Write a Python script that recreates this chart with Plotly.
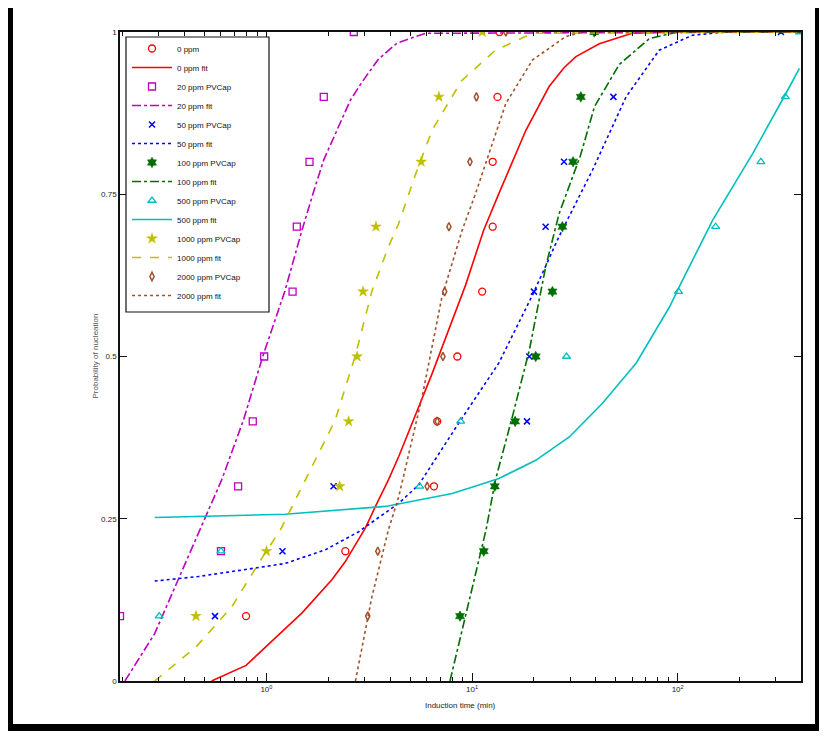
import plotly.graph_objects as go
import math

# ---- measured data (probability levels shared by all series) ----
prob = [0.1, 0.2, 0.3, 0.4, 0.5, 0.6, 0.7, 0.8, 0.9, 1.0]

t_0ppm    = [0.796, 2.42, 6.53, 6.77, 8.48, 11.2, 12.6, 12.6, 13.3, 13.6]
t_20ppm   = [0.194, 0.601, 0.728, 0.858, 0.975, 1.34, 1.405, 1.62, 1.90, 2.66]
t_50ppm   = [0.562, 1.197, 2.12, 18.5, 19.0, 20.0, 22.8, 28.0, 48.7, 318]
t_100ppm  = [8.74, 11.4, 12.9, 16.2, 20.4, 24.6, 27.5, 31.0, 33.8, 39.3]
t_500ppm  = [0.301, 0.601, 5.56, 8.8, 28.8, 101, 153, 254, 334, 391]
t_1000ppm = [0.454, 1.0, 2.27, 2.51, 2.76, 2.95, 3.41, 5.66, 6.9, 11.2]
t_2000ppm = [3.11, 3.48, 6.05, 6.77, 7.22, 7.36, 7.72, 9.77, 10.5, 14.6]

# ---- fitted curves ----
fit0_t = [0.541, 0.796, 1.49, 2.08, 2.42, 3.03, 3.39, 3.92, 4.4, 6.4, 9.3, 11.4, 13.5, 18.3, 23.7, 28.0, 32.0, 41.6, 60.0, 100, 400]
fit0_p = [0.0, 0.024, 0.105, 0.156, 0.184, 0.236, 0.269, 0.31, 0.346, 0.474, 0.61, 0.695, 0.751, 0.849, 0.916, 0.945, 0.962, 0.982, 0.998, 1.0, 1.0]

fit20_t = [0.205, 0.286, 0.372, 0.483, 0.606, 0.773, 0.964, 1.23, 1.49, 1.70, 1.90, 2.56, 2.92, 3.5, 4.32, 5.94, 400]
fit20_p = [0.0, 0.073, 0.156, 0.238, 0.31, 0.402, 0.502, 0.601, 0.695, 0.755, 0.803, 0.895, 0.923, 0.958, 0.983, 0.998, 1.0]

fit50_t = [0.286, 0.466, 0.881, 1.23, 1.93, 2.81, 4.4, 5.5, 8.6, 13.5, 19.7, 26.5, 38.5, 56.1, 81.3, 118, 172, 400]
fit50_p = [0.154, 0.161, 0.174, 0.181, 0.202, 0.23, 0.274, 0.302, 0.397, 0.49, 0.595, 0.685, 0.787, 0.9, 0.972, 0.995, 1.0, 1.0]

fit100_t = [7.81, 10.0, 11.7, 13.0, 15.7, 19.0, 22.8, 26.5, 33.7, 39.4, 52.0, 73.0, 100, 400]
fit100_p = [0.0, 0.14, 0.233, 0.31, 0.407, 0.51, 0.638, 0.72, 0.81, 0.885, 0.95, 0.99, 1.0, 1.0]

fit500_t = [0.286, 1.23, 3.79, 8.0, 10.8, 13.5, 20.4, 29.7, 43.1, 62.9, 91.5, 102, 148, 232, 337, 391]
fit500_p = [0.252, 0.257, 0.269, 0.289, 0.302, 0.312, 0.34, 0.376, 0.428, 0.49, 0.577, 0.608, 0.71, 0.813, 0.906, 0.944]

fit1000_t = [0.286, 0.456, 0.677, 0.817, 0.949, 1.17, 1.38, 1.86, 2.16, 2.71, 3.26, 3.92, 4.4, 5.3, 6.4, 8.9, 13.0, 19.7, 400]
fit1000_p = [0.0, 0.053, 0.114, 0.156, 0.189, 0.233, 0.279, 0.361, 0.402, 0.502, 0.601, 0.669, 0.705, 0.78, 0.849, 0.925, 0.972, 0.998, 1.0]

fit2000_t = [2.71, 3.26, 3.92, 4.4, 5.72, 7.14, 8.96, 10.4, 14.6, 19.7, 28.6, 34.4, 400]
fit2000_p = [0.0, 0.13, 0.233, 0.284, 0.438, 0.592, 0.695, 0.751, 0.89, 0.957, 0.993, 1.0, 1.0]

x_tick_vals = [1, 10, 100]
x_tick_text = ["10<sup>0</sup>", "10<sup>1</sup>", "10<sup>2</sup>"]
y_tick_vals = [0, 0.25, 0.5, 0.75, 1]
y_tick_text = ["0", "0.25", "0.5", "0.75", "1"]

RED = "#ff0000"
MAG = "#bf00bf"
BLU = "#0000ff"
GRN = "#006e00"
CYN = "#00bfbf"
YEL = "#bfbf00"
BRN = "#a0522d"

series = [
    ("0 ppm", t_0ppm, dict(symbol="circle-open", size=7, color=RED, line=dict(width=1.3, color=RED)),
     "0 ppm fit", fit0_t, fit0_p, RED, "solid"),
    ("20 ppm PVCap", t_20ppm, dict(symbol="square-open", size=7, color=MAG, line=dict(width=1.3, color=MAG)),
     "20 ppm fit", fit20_t, fit20_p, MAG, "dashdot"),
    ("50 ppm PVCap", t_50ppm, dict(symbol="x-thin-open", size=6, color=BLU, line=dict(width=1.5, color=BLU)),
     "50 ppm fit", fit50_t, fit50_p, BLU, "dot"),
    ("100 ppm PVCap", t_100ppm, dict(symbol="hexagram", size=8, color=GRN, line=dict(width=0.5, color=GRN)),
     "100 ppm fit", fit100_t, fit100_p, GRN, "dashdot"),
    ("500 ppm PVCap", t_500ppm, dict(symbol="triangle-up-open", size=7, color=CYN, line=dict(width=1.3, color=CYN)),
     "500 ppm fit", fit500_t, fit500_p, CYN, "solid"),
    ("1000 ppm PVCap", t_1000ppm, dict(symbol="star", size=8, color=YEL, line=dict(width=0.5, color=YEL)),
     "1000 ppm fit", fit1000_t, fit1000_p, YEL, "dash"),
    ("2000 ppm PVCap", t_2000ppm, dict(symbol="diamond-tall-open", size=6, color=BRN, line=dict(width=1.5, color=BRN)),
     "2000 ppm fit", fit2000_t, fit2000_p, BRN, "dot"),
]

fig = go.Figure()
for name, tx, mk, fname, ft, fp, col, dash in series:
    fig.add_trace(go.Scatter(x=tx, y=prob, mode="markers", name=name, marker=mk))
    fig.add_trace(go.Scatter(x=ft, y=fp, mode="lines", name=fname,
                             line=dict(color=col, width=1.6, dash=dash)))

# page is rendered with an 8 px body margin: work in page pixels and shift
OFF = 8
PAGE_W, PAGE_H = 827, 737
W, H = PAGE_W - OFF, PAGE_H - OFF
X0, X1, Y0, Y1 = 120, 801, 32, 681          # plot area in page pixels
L, T = X0 - OFF, Y0 - OFF
R, B = W - (X1 - OFF), H - (Y1 - OFF)
pw, ph = X1 - X0, Y1 - Y0

def px(x):
    return (x - X0) / pw

def py(y):
    return (Y1 - y) / ph

minor_vals = [m * 10 ** d for d in range(-1, 3) for m in range(2, 10)]
FONT = "Liberation Sans"

fig.update_layout(
    width=W, height=H,
    margin=dict(l=L, r=R, t=T, b=B),
    paper_bgcolor="white", plot_bgcolor="white",
    font=dict(family=FONT, size=8, color="#1a1a2a"),
    showlegend=True,
    legend=dict(x=px(127), y=py(34), xanchor="left", yanchor="top",
                bgcolor="rgba(0,0,0,0)", borderwidth=0,
                font=dict(family=FONT, size=8, color="#111111"),
                itemwidth=40, tracegroupgap=0),
    xaxis=dict(type="log", range=[math.log10(0.194), math.log10(398)],
               tickmode="array", tickvals=x_tick_vals, ticktext=x_tick_text,
               ticks="inside", ticklen=8, tickwidth=1, tickcolor="#111111",
               showline=True, linecolor="#111111", linewidth=1.5, mirror="ticks",
               showgrid=False, zeroline=False,
               minor=dict(tickmode="array", tickvals=minor_vals, ticks="inside",
                          ticklen=4, tickcolor="#111111", showgrid=False),
               tickfont=dict(size=8)),
    yaxis=dict(range=[0, 1], tickmode="array", tickvals=y_tick_vals, ticktext=y_tick_text,
               ticks="inside", ticklen=7, tickwidth=1, tickcolor="#111111",
               showline=True, linecolor="#111111", linewidth=1.5, mirror="ticks",
               showgrid=False, zeroline=False, tickfont=dict(size=8)),
    annotations=[
        dict(text="Induction time (min)", xref="paper", yref="paper",
             x=px(460), y=py(712), showarrow=False, font=dict(size=8, color="#222222")),
        dict(text="Probability of nucleation", xref="paper", yref="paper",
             x=px(88), y=py(356), textangle=-90, showarrow=False,
             font=dict(size=8, color="#555555")),
    ],
    shapes=[
        # legend box
        dict(type="rect", xref="paper", yref="paper", layer="above",
             x0=px(126), x1=px(269), y0=py(312), y1=py(37),
             fillcolor="white", line=dict(width=1.2, color="#111111")),
        # outer black frame (page pixels)
        dict(type="rect", xref="paper", yref="paper", x0=px(8), x1=px(13), y0=py(731), y1=py(3),
             fillcolor="black", line=dict(width=0)),
        dict(type="rect", xref="paper", yref="paper", x0=px(8), x1=px(823), y0=py(6), y1=py(8),
             fillcolor="black", line=dict(width=0)),
        dict(type="rect", xref="paper", yref="paper", x0=px(8), x1=px(823), y0=py(731), y1=py(724),
             fillcolor="black", line=dict(width=0)),
        dict(type="rect", xref="paper", yref="paper", x0=px(815), x1=px(823), y0=py(731), y1=py(8),
             fillcolor="black", line=dict(width=0)),
    ],
)

fig.write_html("out.html")
